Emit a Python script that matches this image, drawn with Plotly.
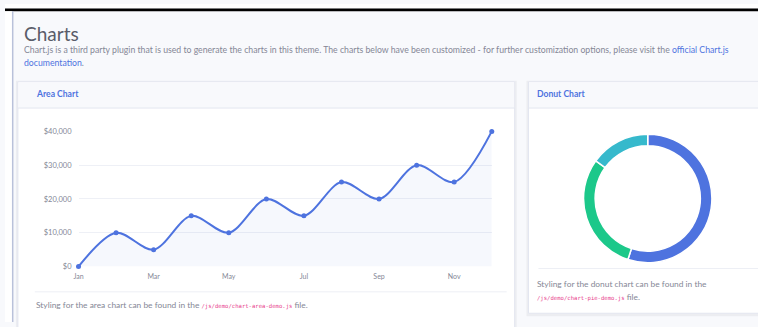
import plotly.graph_objects as go

W, H = 758, 327

# ---- data ----
months = ["Jan", "Feb", "Mar", "Apr", "May", "Jun", "Jul", "Aug", "Sep", "Oct", "Nov", "Dec"]
earnings = [0, 10000, 5000, 15000, 10000, 20000, 15000, 25000, 20000, 30000, 25000, 40000]
y_ticks = [0, 10000, 20000, 30000, 40000]
y_tick_text = ["$" + f"{v:,}" for v in y_ticks]
donut_labels = ["Direct", "Referral", "Social"]
donut_values = [55, 30, 15]
donut_colors = ["#4e73df", "#1cc88a", "#36b9cc"]

FONT = "Lato, 'Open Sans', sans-serif"
BLUE = "#4e73df"
GRAY = "#858796"
BORDER = "#e3e6f0"


def px(x):
    return x / W


def py(y):
    return 1 - y / H


fig = go.Figure()

# area chart
fig.add_trace(go.Scatter(
    x=months, y=earnings, mode="lines+markers",
    line=dict(color=BLUE, width=2, shape="spline", smoothing=0.9),
    marker=dict(size=5, color=BLUE),
    fill="tozeroy", fillcolor="rgba(78,115,223,0.05)",
    cliponaxis=False, hoverinfo="x+y", showlegend=False,
))

# donut
fig.add_trace(go.Pie(
    labels=donut_labels, values=donut_values, hole=0.82, sort=False,
    direction="clockwise", rotation=0,
    marker=dict(colors=donut_colors, line=dict(color="white", width=1.5)),
    textinfo="none", showlegend=False,
    domain=dict(x=[px(581), px(713)], y=[py(266), py(134)]),
))

fig.update_xaxes(
    domain=[px(74), px(490)], range=[0, 11], type="category",
    tickvals=months[::2], ticktext=months[::2],
    showgrid=False, zeroline=False, showline=False, ticks="",
    ticklabelstandoff=4,
    tickfont=dict(family=FONT, size=7, color=GRAY),
)
fig.update_yaxes(
    domain=[py(270), py(131)], range=[0, 40000],
    tickvals=y_ticks, ticktext=y_tick_text,
    showgrid=True, gridcolor="rgb(238,240,246)", gridwidth=1,
    zeroline=False, showline=False, ticks="",
    ticklabelstandoff=6,
    tickfont=dict(family=FONT, size=7.5, color=GRAY),
)

shapes = []
# page background and chrome
shapes.append(dict(type="rect", xref="paper", yref="paper", x0=0, x1=1, y0=0, y1=1,
                   fillcolor="#f8f9fc", line_width=0, layer="below"))
shapes.append(dict(type="rect", xref="paper", yref="paper", x0=0, x1=1, y0=py(4), y1=1,
                   fillcolor="white", line_width=0, layer="below"))
shapes.append(dict(type="rect", xref="paper", yref="paper", x0=0, x1=1, y0=py(7.5), y1=py(4.5),
                   fillcolor="#000000", line_width=0, layer="below"))
shapes.append(dict(type="rect", xref="paper", yref="paper", x0=0, x1=px(7), y0=0, y1=py(7.5),
                   fillcolor="white", line_width=0, layer="below"))
shapes.append(dict(type="rect", xref="paper", yref="paper", x0=px(7), x1=px(8.5), y0=0, y1=py(7.5),
                   fillcolor="#b9c1da", line_width=0, layer="below"))

# cards
for (x0, x1, y0, y1) in [(13, 513, 80, 340), (527, 770, 80, 318)]:
    shapes.append(dict(type="rect", xref="paper", yref="paper", x0=px(x0 - 2), x1=px(x1 + 2),
                       y0=py(y1 + 3), y1=py(y0 - 1), fillcolor="rgba(58,59,69,0.06)",
                       line_width=0, layer="below"))
    shapes.append(dict(type="rect", xref="paper", yref="paper", x0=px(x0), x1=px(x1),
                       y0=py(y1), y1=py(y0), fillcolor="white",
                       line=dict(color=BORDER, width=1), layer="below"))
    shapes.append(dict(type="rect", xref="paper", yref="paper", x0=px(x0 + 0.5), x1=px(x1 - 0.5),
                       y0=py(107), y1=py(y0 + 0.5), fillcolor="#f8f9fc",
                       line_width=0, layer="below"))
    shapes.append(dict(type="line", xref="paper", yref="paper", x0=px(x0), x1=px(x1),
                       y0=py(107), y1=py(107), line=dict(color=BORDER, width=1), layer="below"))

# separators
shapes.append(dict(type="line", xref="paper", yref="paper", x0=px(30), x1=px(505),
                   y0=py(296), y1=py(296), line=dict(color="#edeff5", width=1), layer="below"))
shapes.append(dict(type="line", xref="paper", yref="paper", x0=px(537), x1=px(758),
                   y0=py(272), y1=py(272), line=dict(color="#edeff5", width=1), layer="below"))

annotations = []


def txt(x, y, text, size, color=GRAY, family=FONT):
    annotations.append(dict(xref="paper", yref="paper", x=px(x), y=py(y), text=text,
                            showarrow=False, xanchor="left", yanchor="middle", borderpad=0,
                            font=dict(size=size, color=color, family=family)))


CODE = "<span style='font-family:DejaVu Sans Mono;font-size:5.6px;color:#e83e8c'>"

txt(18, 30, "Charts", 19, "#5a5c69")
txt(18, 47, "Chart.js is a third party plugin that is used to generate the charts in this theme. "
            "The charts below have been customized - for further customization options, please visit the "
            "<span style='color:#4e73df'>official Chart.js</span>", 8.7)
txt(18, 60, "<span style='color:#4e73df'>documentation</span>.", 8.7)
txt(30, 93, "<b>Area Chart</b>", 8.6, BLUE)
txt(535, 93, "<b>Donut Chart</b>", 8.6, BLUE)
txt(30, 310, "Styling for the area chart can be found in the " + CODE
    + "/js/demo/chart-area-demo.js</span> file.", 8.4)
txt(535, 288, "Styling for the donut chart can be found in the", 8.4)
txt(535, 301, CODE + "/js/demo/chart-pie-demo.js</span> file.", 8.4)

fig.update_layout(
    width=W, height=H, margin=dict(l=0, r=0, t=0, b=0),
    paper_bgcolor="#f8f9fc", plot_bgcolor="rgba(0,0,0,0)",
    shapes=shapes, annotations=annotations,
    font=dict(family=FONT),
)

fig.write_html(
    "out.html",
    config={"displayModeBar": False},
    post_script="document.body.style.margin='0';document.body.style.overflow='hidden';",
)
